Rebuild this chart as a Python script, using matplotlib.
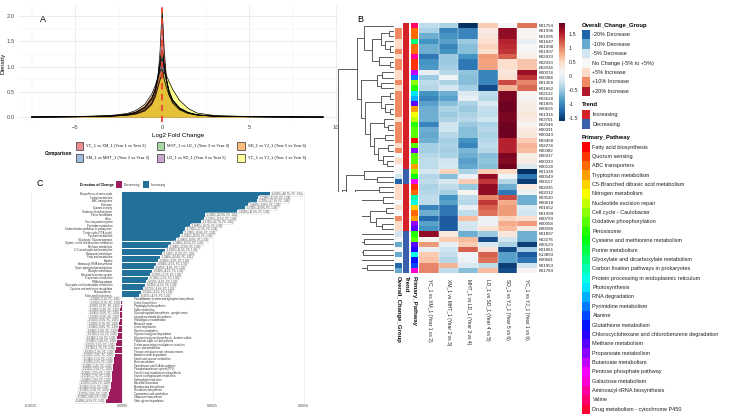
import numpy as np
import matplotlib
matplotlib.use("Agg")
import matplotlib.pyplot as plt
import matplotlib.colors as mcolors
import matplotlib.transforms as mtrans
from matplotlib.patches import Rectangle

plt.rcParams['font.family'] = ['Liberation Sans', 'DejaVu Sans']

# ---------------- Panel A data ----------------
comparisons = ["YC_1 vs XM_1 (Year 1 vs Year 2)", "XM_1 vs MHT_1 (Year 2 vs Year 3)",
               "MHT_1 vs LD_1 (Year 3 vs Year 4)", "LD_1 vs SD_1 (Year 4 vs Year 5)",
               "SD_1 vs YJ_1 (Year 5 vs Year 6)", "YC_1 vs YJ_1 (Year 1 vs Year 6)"]
comp_colors = ["#E41A1C", "#377EB8", "#4DAF4A", "#984EA3", "#FF7F00", "#FFFF33"]
lfc_grid = [-7.5, -5, -3, -2, -1.5, -1, -0.6, -0.4, -0.25, -0.12, -0.05, 0, 0.05, 0.12,
            0.25, 0.4, 0.6, 1, 1.5, 2, 3, 5, 7, 9.25]
dens_yc_xm = [0, 0.006, 0.015, 0.04, 0.07, 0.14, 0.28, 0.45, 0.75, 1.3, 1.8, 2.12, 1.8, 1.3,
              0.75, 0.45, 0.28, 0.14, 0.07, 0.04, 0.015, 0.006, 0.002, 0]
dens_xm_mht = [0, 0.006, 0.02, 0.05, 0.09, 0.18, 0.35, 0.52, 0.75, 1.05, 1.2, 1.25, 1.18, 1.0,
               0.72, 0.5, 0.33, 0.17, 0.08, 0.04, 0.015, 0.006, 0.002, 0]
dens_mht_ld = [0, 0.006, 0.02, 0.05, 0.09, 0.18, 0.36, 0.55, 0.8, 1.12, 1.28, 1.32, 1.25, 1.05,
               0.75, 0.52, 0.34, 0.18, 0.09, 0.045, 0.018, 0.006, 0.002, 0]
dens_ld_sd = [0, 0.007, 0.022, 0.055, 0.1, 0.2, 0.38, 0.55, 0.75, 1.0, 1.12, 1.15, 1.1, 0.95,
              0.7, 0.5, 0.34, 0.18, 0.09, 0.045, 0.018, 0.007, 0.002, 0]
dens_sd_yj = [0, 0.009, 0.03, 0.07, 0.13, 0.25, 0.45, 0.62, 0.78, 0.9, 0.95, 0.93, 0.86, 0.74,
              0.58, 0.43, 0.3, 0.16, 0.08, 0.04, 0.016, 0.006, 0.002, 0]
dens_yc_yj = [0, 0.006, 0.015, 0.035, 0.06, 0.12, 0.25, 0.4, 0.58, 0.74, 0.8, 0.83, 0.86, 0.88,
              0.82, 0.7, 0.55, 0.33, 0.17, 0.08, 0.03, 0.01, 0.003, 0]
densities = [dens_yc_xm, dens_xm_mht, dens_mht_ld, dens_ld_sd, dens_sd_yj, dens_yc_yj]

# ---------------- Panel B data ----------------
kos = ["K01754", "K01996", "K01995", "K01647", "K01998", "K01997", "K02433", "K02033", "K02034",
       "K00074", "K00384", "K01358", "K01662", "K02112", "K03628", "K01895", "K00626", "K01915",
       "K03701", "K02046", "K00331", "K00343", "K09458", "K02274", "K00382", "K00337", "K00333",
       "K00128", "K01338", "K00549", "K00117", "K02035", "K02012", "K03520", "K00618", "K01652",
       "K01999", "K00799", "K00058", "K00098", "K01897", "K02276", "K00123", "K01061", "K13893",
       "K00681", "K01953", "K01784"]
heat_cols = ["YC_1 vs XM_1 (Year 1 vs 2)", "XM_1 vs MHT_1 (Year 2 vs 3)",
             "MHT_1 vs LD_1 (Year 3 vs 4)", "LD_1 vs SD_1 (Year 4 vs 5)",
             "SD_1 vs YJ_1 (Year 5 vs 6)", "YC_1 vs YJ_1 (Year 1 vs 6)"]
z_yc_xm = [-0.3, -0.4, -0.7, -0.9, -0.7, -0.7, -1.1, -0.9, -0.85, 0.0, -0.5, -0.3, -0.35, -0.9,
           -1.0, -0.8, -0.7, -0.7, -0.7, -1.0, -0.7, -0.75, -0.7, -0.45, -0.45, -0.35, -0.3, -0.3,
           -0.15, -0.35, -0.3, -0.4, -0.35, -0.3, -0.3, -1.0, -0.7, -1.2, -0.8, -0.9, 1.7, 0.2,
           0.9, 0.0, 0.6, 0.65, 1.0, 1.0]
z_xm_mht = [-0.4, -1.0, -0.9, -0.8, -1.0, -0.9, -0.5, -0.5, -0.45, -0.35, 0.1, -0.4, -0.15, -0.7,
            -0.8, -0.6, -0.4, -0.5, -0.4, -0.2, -0.2, -0.35, -0.45, -0.4, -0.45, -0.4, -0.2, -0.15,
            0.55, -0.6, -0.15, -0.3, -0.45, -0.9, -0.8, -1.1, -1.1, -1.3, -1.3, -1.3, 0.35, 0.6,
            0.0, -0.2, -0.25, -0.35, 0.75, -0.3]
z_mht_ld = [-1.6, -1.0, -1.0, -0.5, -0.6, -0.6, -0.9, -1.1, -1.1, -0.55, -0.6, -0.6, -0.45, -0.1,
            0.0, -0.4, -0.5, -0.4, -0.35, -0.5, -0.6, -0.6, -0.9, -1.0, -0.65, -0.7, -0.8, -0.75,
            -0.4, 0.05, 0.6, -0.5, 0.2, -0.3, -0.35, 0.0, -0.3, 0.7, -0.15, -0.2, -0.7, 0.7, 0.6,
            1.2, 0.1, 0.05, -0.1, -0.6]
z_ld_sd = [0.6, 0.3, 0.35, 0.45, 0.55, 0.45, 0.9, 0.85, 0.85, -1.0, -1.0, -1.0, -1.4, -0.3,
           -0.35, -0.1, -0.25, -0.3, -0.2, -0.4, -0.35, -0.4, -0.35, -0.3, -0.35, -0.6, -0.55,
           -0.6, 0.6, 1.7, 1.4, 1.7, 1.7, 1.0, 1.4, 1.2, 1.1, 0.05, 0.05, 0.4, -0.5, -1.4, -0.15,
           0.4, 1.2, 1.1, -0.3, 0.7]
z_sd_yj = [0.15, 1.7, 1.7, 1.5, 1.45, 1.4, 1.2, 0.45, 0.45, 0.35, 0.45, 1.3, 0.75, 1.8, 1.8,
           1.85, 1.85, 1.8, 1.8, 1.85, 1.85, 1.85, 1.5, 1.5, 1.5, 1.8, 1.75, 1.85, 0.5, 0.1,
           -0.35, -0.7, -1.1, 1.3, 0.8, 0.9, 0.9, 0.55, 0.8, 0.7, 0.35, -0.2, -0.4, -1.4, -0.8,
           -0.8, -1.5, -1.4]
z_yc_yj = [1.1, 0.2, 0.2, 0.0, 0.15, 0.2, 0.25, 0.65, 0.65, 1.65, 1.4, 1.0, 1.15, 0.2, 0.2, 0.25,
           0.3, 0.35, 0.3, 0.2, 0.3, 0.35, 0.6, 0.75, 0.7, 0.25, 0.3, -0.1, -1.6, -1.1, -1.5, 0.3,
           0.05, -0.7, -0.7, -0.1, -0.2, 0.45, 0.9, 0.3, -0.7, -0.7, -1.5, -0.45, -1.3, -1.1, -0.2,
           0.2]
change_groups = ["-20% Decrease", "-10% Decrease", "-5% Decrease", "No Change (-5% to +5%)",
                 "+5% Increase", "+10% Increase", "+20% Increase"]
change_colors = ["#2166AC", "#67A9CF", "#D1E5F0", "#F7F7F7", "#FDDBC7", "#EF8A62", "#B2182B"]
row_change = [3, 5, 5, 4, 4, 5, 4, 5, 5, 4, 4, 5, 4, 5, 5, 5, 5, 5, 4, 5, 5, 5, 5, 4, 5, 3, 4, 3,
              3, 2, 0, 4, 4, 4, 3, 4, 3, 5, 4, 4, 2, 3, 1, 3, 1, 3, 0, 1]
trends = ["Increasing", "Decreasing"]
trend_colors = ["#D42027", "#3A60AC"]
row_trend = [0] * 28 + [1] * 3 + [0] * 9 + [1] * 8
pathways = ["Fatty acid biosynthesis", "Quorum sensing", "ABC transporters", "Tryptophan metabolism",
            "C5-Branched dibasic acid metabolism", "Nitrogen metabolism",
            "Nucleotide excision repair", "Cell cycle - Caulobacter", "Oxidative phosphorylation",
            "Peroxisome", "Cysteine and methionine metabolism", "Purine metabolism",
            "Glyoxylate and dicarboxylate metabolism", "Carbon fixation pathways in prokaryotes",
            "Protein processing in endoplasmic reticulum", "Photosynthesis", "RNA degradation",
            "Pyrimidine metabolism", "Alanine", "Glutathione metabolism",
            "Chlorocyclohexane and chlorobenzene degradation", "Methane metabolism",
            "Propanoate metabolism", "Butanoate metabolism", "Pentose phosphate pathway",
            "Galactose metabolism", "Aminoacyl-tRNA biosynthesis", "Valine",
            "Drug metabolism - cytochrome P450"]
row_pathway = [27, 2, 2, 12, 2, 2, 26, 1, 1, 23, 17, 7, 9, 15, 16, 21, 3, 5, 6, 9, 8, 8, 0, 8,
               22, 8, 8, 3, 7, 10, 24, 1, 2, 13, 14, 4, 2, 3, 22, 21, 9, 8, 21, 20, 14, 19, 18, 25]
row_tree = [[[0, [[[1, 2], [3, [4, 5]]], [6, [7, 8]]]],
             [[[9, 10], [11, 12]],
              [[[13, 14], [15, [16, 17]]],
               [[18, [19, 20]], [[21, 22], [[23, 24], [25, [26, 27]]]]]]]],
            [[[28, [29, 30]], [[[31, 32], [33, 34]], [[35, 36], [37, [38, 39]]]]],
             [[40, [41, 42]], [[43, 44], [45, [46, 47]]]]]]

# ---------------- Panel C data ----------------
inc_names = ["Biosynthesis of amino acids", "Carbon metabolism", "ABC transporters", "Ribosome",
             "Quorum sensing", "Oxidative phosphorylation", "Purine metabolism", "Valine",
             "Two-component system", "Pyrimidine metabolism",
             "Carbon fixation pathways in prokaryotes", "Citrate cycle (TCA cycle)",
             "Pyruvate metabolism", "Glycolysis / Gluconeogenesis",
             "Glycine, serine and threonine metabolism", "Methane metabolism",
             "2-Oxocarboxylic acid metabolism", "Butanoate metabolism", "Fatty acid metabolism",
             "Alanine", "Aminoacyl-tRNA biosynthesis", "Glycerophospholipid metabolism",
             "Nitrogen metabolism", "Bacterial secretion system", "Propanoate metabolism",
             "RNA degradation", "Glyoxylate and dicarboxylate metabolism",
             "Cysteine and methionine metabolism", "Photosynthesis", "Fatty acid biosynthesis"]
inc_values = [0.004066, 0.003736, 0.003709, 0.003462, 0.003379, 0.003159, 0.002280, 0.002253,
              0.002170, 0.001868, 0.001731, 0.001676, 0.001593, 0.001484, 0.001346, 0.001264,
              0.001181, 0.001099, 0.001044, 0.000989, 0.000934, 0.000879, 0.000824, 0.000769,
              0.000714, 0.000659, 0.000632, 0.000577, 0.000522, 0.000467]
dec_names = ["Phenylalanine, tyrosine and tryptophan biosynthesis", "Lysine biosynthesis",
             "Peptidoglycan biosynthesis", "Sulfur metabolism",
             "Glycosphingolipid biosynthesis - ganglio series", "Lipopolysaccharide biosynthesis",
             "Homologous recombination", "Mismatch repair", "Lysine degradation",
             "Histidine metabolism", "Glycosaminoglycan degradation",
             "Glycosaminoglycan biosynthesis - keratan sulfate",
             "Polyketide sugar unit biosynthesis", "Protein processing in endoplasmic reticulum",
             "Lipoic acid metabolism", "Pentose and glucuronate interconversions",
             "Aminobenzoate degradation", "Starch and sucrose metabolism", "Biotin metabolism",
             "Pantothenate and CoA biosynthesis", "Phosphotransferase system (PTS)",
             "Penicillin and cephalosporin biosynthesis", "Taurine and hypotaurine metabolism",
             "Sphingolipid metabolism", "Bacterial chemotaxis", "Monobactam biosynthesis",
             "Novobiocin biosynthesis", "Cyanoamino acid metabolism", "Ubiquinone biosynthesis",
             "Other glycan degradation"]
dec_values = [0.000011, 0.000022, 0.000030, 0.000041, 0.000047, 0.000055, 0.000063, 0.000069,
              0.000082, 0.000096, 0.000110, 0.000124, 0.000140, 0.000157, 0.000173, 0.000192,
              0.000203, 0.000214, 0.000225, 0.000239, 0.000250, 0.000261, 0.000272, 0.000283,
              0.000297, 0.000313, 0.000330, 0.000357, 0.000385, 0.000426]
dir_labels = ["Decreasing", "Increasing"]
dir_colors = ["#9C1C5E", "#21719B"]
c_ticks = [-0.0025, 0.0, 0.0025, 0.005]

# ---------------- layout helpers ----------------
W, H = 744, 416
fig = plt.figure(figsize=(W / 100, H / 100), dpi=100)


def ax_px(x0, y0, x1, y1):
    return fig.add_axes([x0 / W, 1 - y1 / H, (x1 - x0) / W, (y1 - y0) / H])


def ftext(x, y, s, **kw):
    return fig.text(x / W, 1 - y / H, s, **kw)


def frect(x0, y0, x1, y1, **kw):
    fig.add_artist(Rectangle((x0 / W, 1 - y1 / H), (x1 - x0) / W, (y1 - y0) / H,
                             transform=fig.transFigure, **kw))


# ================= Panel A =================
axA = ax_px(17.6, 4.6, 338, 122.4)
for col, ys in zip(comp_colors, densities):
    axA.fill_between(lfc_grid, ys, color=col, alpha=0.55, lw=0, zorder=2)
    axA.plot(lfc_grid, ys, color="black", lw=0.5, zorder=3)
axA.axvline(0, color="#E8452C", ls=(0, (3.5, 2.5)), lw=1.3, zorder=4)
axA.set_xlim(-8.3, 10.1)
axA.set_ylim(-0.106, 2.226)
axA.set_xticks([-5, 0, 5, 10])
axA.set_yticks([0, 0.5, 1.0, 1.5, 2.0])
axA.set_yticklabels(["0.0", "0.5", "1.0", "1.5", "2.0"])
axA.set_xticks([-7.5, -2.5, 2.5, 7.5], minor=True)
axA.set_yticks([0.25, 0.75, 1.25, 1.75], minor=True)
axA.grid(True, which="major", color="#E6E6E6", lw=0.5, zorder=0)
axA.grid(True, which="minor", color="#F0F0F0", lw=0.3, zorder=0)
axA.set_axisbelow(True)
for s in axA.spines.values():
    s.set_visible(False)
axA.tick_params(which="both", length=0, labelsize=4.2, colors="#4D4D4D", pad=2)
axA.set_xlabel("Log2 Fold Change", fontsize=4.6, labelpad=2)
axA.set_ylabel("Density", fontsize=4.6, labelpad=1)
ftext(43, 20, "A", fontsize=6.5, ha="center", va="center")

ftext(45, 153, "Comparison", fontsize=3.3, fontweight="bold", ha="left", va="center")
key_x = [75.5, 156.5, 237]
key_y = [146, 158]
for i, (name, col) in enumerate(zip(comparisons, comp_colors)):
    cx = key_x[i // 2]
    cy = key_y[i % 2]
    frect(cx, cy - 3.8, cx + 7.6, cy + 3.8, facecolor=mcolors.to_rgba(col, 0.5),
          edgecolor="#333333", lw=0.5)
    ftext(cx + 10.5, cy, name, fontsize=2.9, ha="left", va="center", color="#222222")

# ================= Panel B =================
ftext(360, 20, "B", fontsize=6.5, ha="center", va="center")
Z = np.column_stack([z_yc_xm, z_xm_mht, z_mht_ld, z_ld_sd, z_sd_yj, z_yc_yj])
nrow = Z.shape[0]
top, bot = 23, 273

# dendrogram
axD = ax_px(337, top, 394, bot)


def avg_dist(a, b):
    return np.mean([np.linalg.norm(Z[i] - Z[j]) for i in a for j in b])


def walk(node):
    if isinstance(node, int):
        return float(node), 0.0, [node]
    yl, hl, ll = walk(node[0])
    yr, hr, lr = walk(node[1])
    h = max(avg_dist(ll, lr), hl + 0.25, hr + 0.25)
    axD.plot([hl, h, h, hr], [yl, yl, yr, yr], color="#444444", lw=0.6,
             solid_capstyle="butt")
    return (yl + yr) / 2, h, ll + lr


_, hroot, _ = walk(row_tree)
axD.set_xlim(hroot * 1.01, 0)
axD.set_ylim(nrow - 0.5, -0.5)
axD.axis("off")

# annotation columns
ann_specs = [((395, 401.5), row_change, change_colors),
             ((403, 409), row_trend, trend_colors),
             ((410.7, 417.3), row_pathway,
              [mcolors.hsv_to_rgb((i / len(pathways), 1, 1)) for i in range(len(pathways))])]
for (x0, x1), idx, cols in ann_specs:
    a = ax_px(x0, top, x1, bot)
    rgb = np.array([mcolors.to_rgb(cols[k]) for k in idx]).reshape(nrow, 1, 3)
    a.imshow(rgb, aspect="auto", interpolation="nearest")
    a.axis("off")

# heatmap
axH = ax_px(419.3, top, 536.7, bot)
norm = mcolors.Normalize(vmin=-1.6, vmax=1.9)
im = axH.imshow(Z, cmap="RdBu_r", norm=norm, aspect="auto", interpolation="nearest")
axH.set_xticks([])
axH.yaxis.tick_right()
axH.set_yticks(range(nrow))
axH.set_yticklabels(kos, fontsize=3.2, color="#222222")
axH.tick_params(axis="y", length=0, pad=1.5)
for s in axH.spines.values():
    s.set_visible(False)
for j in range(1, Z.shape[1]):
    axH.axvline(j - 0.5, color="white", lw=0.3)
trH = mtrans.blended_transform_factory(axH.transData, axH.transAxes)
for j, lab in enumerate(heat_cols):
    axH.text(j, -0.025, lab, transform=trH, rotation=-90, ha="center", va="top",
             fontsize=3.6, color="#222222")
for (x0, x1), lab in zip([(395, 401.5), (403, 409), (410.7, 417.3)],
                         ["Overall_Change_Group", "Trend", "Primary_Pathway"]):
    ftext((x0 + x1) / 2, 276, lab, rotation=-90, ha="center", va="top", fontsize=4.3,
          fontweight="bold", color="#111111")

# colorbar
cax = ax_px(559, 23, 565, 121)
cb = fig.colorbar(im, cax=cax)
cb.set_ticks([-1.5, -1, -0.5, 0, 0.5, 1, 1.5])
cb.set_ticklabels(["-1.5", "-1", "-0.5", "0", "0.5", "1", "1.5"])
cb.ax.tick_params(length=0, labelsize=4.0, pad=2.5, colors="#333333")
cb.outline.set_visible(False)

# legends
lx, tx = 582, 592.5
ftext(lx, 26, "Overall_Change_Group", fontsize=4.2, fontweight="bold", ha="left", va="center")
for i, (g, c) in enumerate(zip(change_groups, change_colors)):
    cy = 34.7 + i * 9.45
    frect(lx, cy - 4.7, lx + 8, cy + 4.7, facecolor=c, edgecolor="none")
    ftext(tx, cy, g, fontsize=4.0, ha="left", va="center", color="#222222")
ftext(lx, 105, "Trend", fontsize=4.2, fontweight="bold", ha="left", va="center")
for i, (g, c) in enumerate(zip(trends, trend_colors)):
    cy = 114.7 + i * 9.4
    frect(lx, cy - 4.7, lx + 8, cy + 4.7, facecolor=c, edgecolor="none")
    ftext(tx, cy, g, fontsize=4.0, ha="left", va="center", color="#222222")
ftext(lx, 137.7, "Primary_Pathway", fontsize=4.2, fontweight="bold", ha="left", va="center")
for i, g in enumerate(pathways):
    cy = 147 + i * 9.37
    c = mcolors.hsv_to_rgb((i / len(pathways), 1, 1))
    frect(lx, cy - 4.7, lx + 8, cy + 4.7, facecolor=c, edgecolor="none")
    ftext(tx, cy, g, fontsize=4.0, ha="left", va="center", color="#222222")

# ================= Panel C =================
ftext(40, 183, "C", fontsize=6.5, ha="center", va="center")
ftext(80, 185, "Direction of Change", fontsize=2.5, fontweight="bold", ha="left", va="center")
for (kx, lab, col) in zip([116, 142.5], dir_labels, dir_colors):
    frect(kx, 181.5, kx + 6, 188, facecolor=col, edgecolor="none")
    ftext(kx + 8, 185, lab, fontsize=2.3, ha="left", va="center", color="#333333")

axC = ax_px(23.7, 192, 362, 403)
n_inc, n_dec = len(inc_values), len(dec_values)
axC.barh(range(n_inc), inc_values, height=0.95, color=dir_colors[1], zorder=2)
axC.barh(range(n_inc, n_inc + n_dec), [-v for v in dec_values], height=0.95,
         color=dir_colors[0], zorder=2)
off = 0.00027
for i, (nm, v) in enumerate(zip(inc_names, inc_values)):
    axC.text(-off, i, nm, ha="right", va="center", fontsize=1.9, color="#333333")
    lab = f"{v * 1000:.4f} (+{v * 1e4:.1f}%, FC: {1 + v * 10:.2f})"
    axC.text(v + 0.00005, i, lab, ha="left", va="center", fontsize=1.8, color="#333333",
             bbox=dict(boxstyle="round,pad=0.15", fc="white", ec="#BBBBBB", lw=0.2), zorder=3)
for k, (nm, v) in enumerate(zip(dec_names, dec_values)):
    i = n_inc + k
    axC.text(off + 0.00006, i, nm, ha="left", va="center", fontsize=1.9, color="#333333")
    lab = f"-{v * 1000:.4f} (-{v * 1e4:.1f}%, FC: {1 - v * 10:.2f})"
    axC.text(-v - 0.00005, i, lab, ha="right", va="center", fontsize=1.8, color="#333333",
             bbox=dict(boxstyle="round,pad=0.15", fc="white", ec="#BBBBBB", lw=0.2), zorder=3)
axC.set_xlim(-0.0027, 0.0066)
axC.set_ylim(n_inc + n_dec - 0.4, -0.6)
axC.set_yticks([])
axC.set_xticks(c_ticks)
axC.set_xticklabels([f"{t:.4f}" for t in c_ticks])
axC.tick_params(axis="x", length=0, labelsize=2.6, colors="#4D4D4D", pad=1)
axC.grid(True, axis="x", color="#E8E8E8", lw=0.4, zorder=0)
axC.set_axisbelow(True)
for s in axC.spines.values():
    s.set_visible(False)

fig.savefig("out.png", dpi=100)
